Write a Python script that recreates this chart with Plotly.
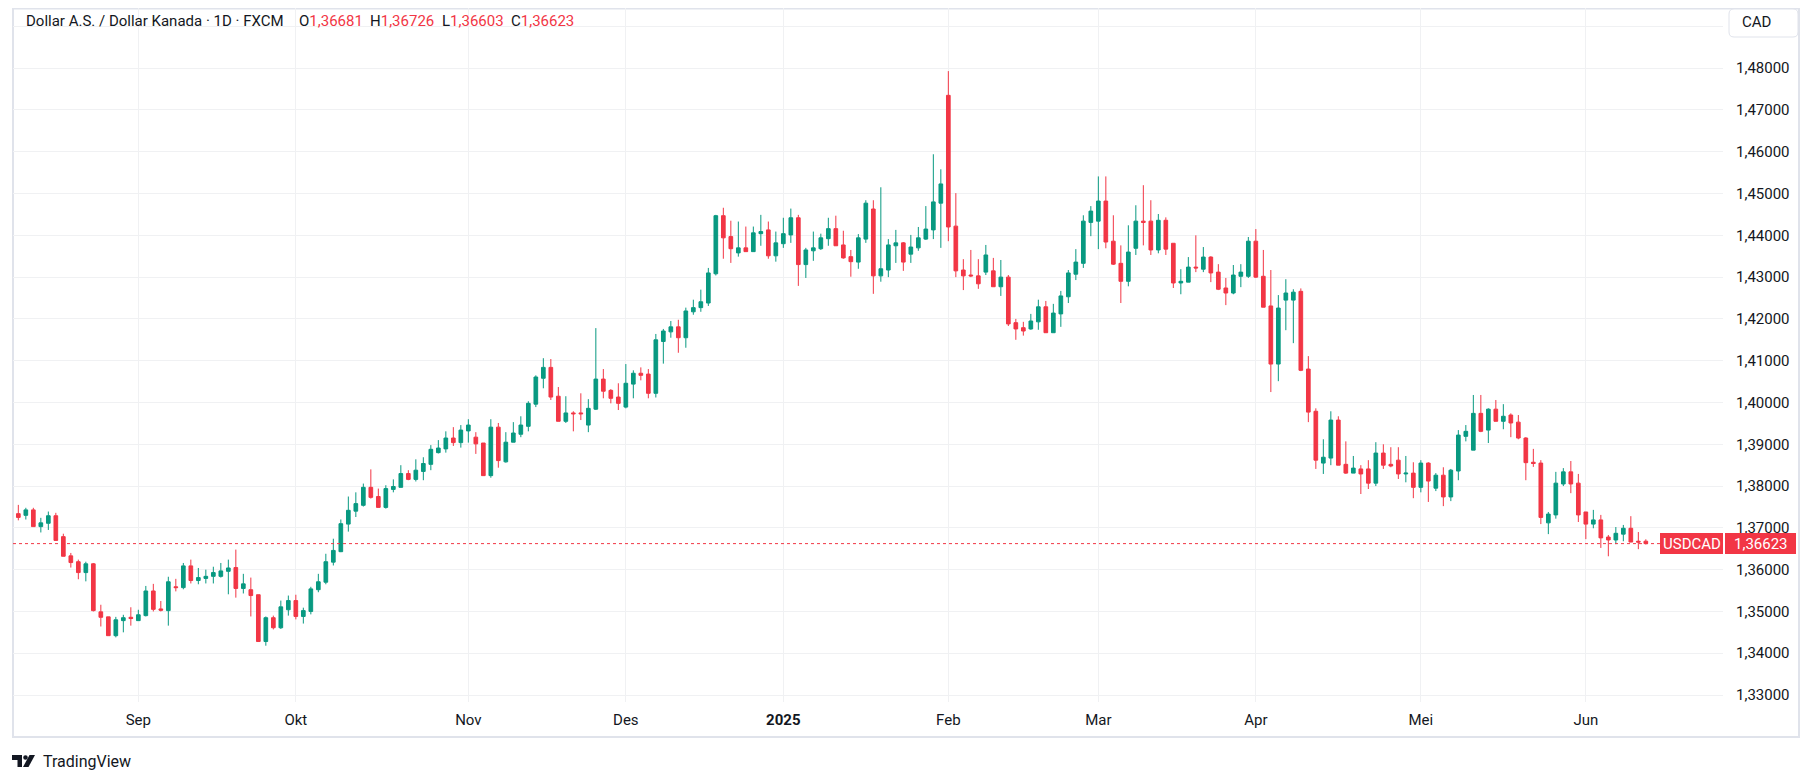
import pandas as pd
import plotly.graph_objects as go

# USD/CAD daily candles, 9 Aug 2024 .. 12 Jun 2025
open_ = [
    1.3734, 1.3730, 1.3743, 1.3703, 1.3711, 1.3729, 1.3679, 1.3633, 1.3619, 1.3593,
    1.3614, 1.3499, 1.3487, 1.3442, 1.3478, 1.3486, 1.3478, 1.3490, 1.3549, 1.3506,
    1.3502, 1.3559, 1.3557, 1.3609, 1.3574, 1.3579, 1.3584, 1.3584, 1.3596, 1.3605,
    1.3555, 1.3552, 1.3540, 1.3428, 1.3485, 1.3461, 1.3504, 1.3526, 1.3488, 1.3500,
    1.3552, 1.3570, 1.3618, 1.3643, 1.3709, 1.3740, 1.3754, 1.3797, 1.3775, 1.3749,
    1.3792, 1.3797, 1.3830, 1.3816, 1.3835, 1.3852, 1.3880, 1.3889, 1.3915, 1.3904,
    1.3932, 1.3917, 1.3903, 1.3825, 1.3941, 1.3858, 1.3905, 1.3924, 1.3943, 1.3996,
    1.4058, 1.4084, 1.4015, 1.3955, 1.3975, 1.3975, 1.3946, 1.3984, 1.4056, 1.4029,
    1.4013, 1.3989, 1.4044, 1.4070, 1.4068, 1.4022, 1.4146, 1.4169, 1.4181, 1.4155,
    1.4217, 1.4227, 1.4238, 1.4308, 1.4447, 1.4397, 1.4358, 1.4370, 1.4361, 1.4404,
    1.4413, 1.4351, 1.4380, 1.4401, 1.4442, 1.4330, 1.4363, 1.4368, 1.4392, 1.4416,
    1.4377, 1.4349, 1.4336, 1.4391, 1.4463, 1.4303, 1.4317, 1.4375, 1.4382, 1.4355,
    1.4370, 1.4391, 1.4413, 1.4477, 1.4735, 1.4422, 1.4317, 1.4305, 1.4303, 1.4312,
    1.4315, 1.4277, 1.4300, 1.4191, 1.4179, 1.4176, 1.4193, 1.4229, 1.4167, 1.4212,
    1.4253, 1.4307, 1.4333, 1.4431, 1.4434, 1.4482, 1.4386, 1.4333, 1.4290, 1.4369,
    1.4434, 1.4434, 1.4365, 1.4436, 1.4381, 1.4286, 1.4288, 1.4324, 1.4319, 1.4348,
    1.4312, 1.4274, 1.4262, 1.4302, 1.4302, 1.4386, 1.4302, 1.4231, 1.4092, 1.4245,
    1.4245, 1.4266, 1.4080, 1.3979, 1.3855, 1.3867, 1.3958, 1.3852, 1.3831, 1.3841,
    1.3841, 1.3807, 1.3879, 1.3852, 1.3862, 1.3829, 1.3831, 1.3797, 1.3855, 1.3795,
    1.3826, 1.3774, 1.3836, 1.3919, 1.3886, 1.3974, 1.3934, 1.3984, 1.3955, 1.3970,
    1.3953, 1.3915, 1.3857, 1.3855, 1.3712, 1.3731, 1.3805, 1.3834, 1.3807, 1.3738,
    1.3709, 1.3719, 1.3678, 1.3671, 1.3685, 1.3699, 1.3668, 1.36681,
]
high = [
    1.3755, 1.3748, 1.3748, 1.3724, 1.3739, 1.3736, 1.3686, 1.3640, 1.3624, 1.3619,
    1.3616, 1.3516, 1.3487, 1.3487, 1.3492, 1.3510, 1.3504, 1.3561, 1.3566, 1.3525,
    1.3583, 1.3578, 1.3616, 1.3624, 1.3604, 1.3600, 1.3607, 1.3616, 1.3624, 1.3648,
    1.3590, 1.3581, 1.3540, 1.3488, 1.3490, 1.3526, 1.3538, 1.3540, 1.3509, 1.3559,
    1.3590, 1.3638, 1.3674, 1.3720, 1.3775, 1.3785, 1.3806, 1.3840, 1.3794, 1.3802,
    1.3816, 1.3850, 1.3838, 1.3864, 1.3869, 1.3898, 1.3910, 1.3931, 1.3941, 1.3946,
    1.3960, 1.3929, 1.3903, 1.3960, 1.3951, 1.3929, 1.3953, 1.3967, 1.4003, 1.4065,
    1.4106, 1.4104, 1.4037, 1.4015, 1.3979, 1.4022, 1.4008, 1.4178, 1.4080, 1.4032,
    1.4046, 1.4092, 1.4077, 1.4084, 1.4080, 1.4164, 1.4176, 1.4195, 1.4198, 1.4227,
    1.4246, 1.4270, 1.4322, 1.4449, 1.4466, 1.4435, 1.4433, 1.4421, 1.4421, 1.4449,
    1.4433, 1.4409, 1.4442, 1.4464, 1.4449, 1.4370, 1.4409, 1.4404, 1.4442, 1.4447,
    1.4411, 1.4365, 1.4403, 1.4484, 1.4484, 1.4515, 1.4391, 1.4413, 1.4384, 1.4401,
    1.4420, 1.4470, 1.4594, 1.4558, 1.4793, 1.4501, 1.4343, 1.4365, 1.4343, 1.4377,
    1.4346, 1.4341, 1.4305, 1.4200, 1.4193, 1.4212, 1.4246, 1.4243, 1.4236, 1.4267,
    1.4317, 1.4367, 1.4448, 1.4470, 1.4541, 1.4541, 1.4448, 1.4376, 1.4424, 1.4472,
    1.4520, 1.4484, 1.4451, 1.4443, 1.4381, 1.4319, 1.4348, 1.4400, 1.4372, 1.4350,
    1.4331, 1.4298, 1.4329, 1.4331, 1.4396, 1.4415, 1.4365, 1.4317, 1.4257, 1.4295,
    1.4271, 1.4273, 1.4111, 1.3986, 1.3912, 1.3979, 1.3967, 1.3907, 1.3872, 1.3850,
    1.3862, 1.3905, 1.3900, 1.3893, 1.3893, 1.3872, 1.3857, 1.3862, 1.3857, 1.3831,
    1.3845, 1.3841, 1.3934, 1.3946, 1.4018, 1.4018, 1.3986, 1.4006, 1.3996, 1.3974,
    1.3970, 1.3917, 1.3889, 1.3862, 1.3738, 1.3834, 1.3843, 1.3860, 1.3829, 1.3738,
    1.3743, 1.3731, 1.3683, 1.3702, 1.3707, 1.3728, 1.3690, 1.36726,
]
low = [
    1.3718, 1.3720, 1.3703, 1.3689, 1.3695, 1.3670, 1.3632, 1.3605, 1.3577, 1.3572,
    1.3500, 1.3464, 1.3442, 1.3438, 1.3450, 1.3466, 1.3478, 1.3488, 1.3500, 1.3500,
    1.3466, 1.3548, 1.3553, 1.3567, 1.3565, 1.3567, 1.3567, 1.3581, 1.3541, 1.3533,
    1.3543, 1.3488, 1.3428, 1.3418, 1.3457, 1.3458, 1.3490, 1.3481, 1.3471, 1.3493,
    1.3546, 1.3565, 1.3610, 1.3642, 1.3691, 1.3726, 1.3751, 1.3770, 1.3749, 1.3746,
    1.3785, 1.3797, 1.3814, 1.3811, 1.3814, 1.3838, 1.3878, 1.3880, 1.3896, 1.3892,
    1.3904, 1.3877, 1.3825, 1.3820, 1.3844, 1.3856, 1.3905, 1.3917, 1.3931, 1.3989,
    1.4034, 1.4006, 1.3955, 1.3951, 1.3931, 1.3958, 1.3929, 1.3982, 1.4010, 1.3998,
    1.3982, 1.3986, 1.4010, 1.4053, 1.4010, 1.4012, 1.4093, 1.4155, 1.4119, 1.4131,
    1.4210, 1.4217, 1.4231, 1.4304, 1.4344, 1.4334, 1.4349, 1.4361, 1.4361, 1.4375,
    1.4344, 1.4337, 1.4370, 1.4382, 1.4279, 1.4298, 1.4339, 1.4365, 1.4375, 1.4375,
    1.4344, 1.4301, 1.4320, 1.4382, 1.4260, 1.4289, 1.4300, 1.4334, 1.4315, 1.4334,
    1.4363, 1.4389, 1.4391, 1.4370, 1.4386, 1.4300, 1.4269, 1.4300, 1.4272, 1.4305,
    1.4277, 1.4255, 1.4183, 1.4150, 1.4160, 1.4174, 1.4174, 1.4167, 1.4167, 1.4181,
    1.4238, 1.4293, 1.4322, 1.4398, 1.4367, 1.4369, 1.4329, 1.4238, 1.4278, 1.4353,
    1.4376, 1.4353, 1.4357, 1.4353, 1.4274, 1.4259, 1.4288, 1.4312, 1.4312, 1.4288,
    1.4269, 1.4233, 1.4259, 1.4276, 1.4298, 1.4298, 1.4228, 1.4025, 1.4051, 1.4173,
    1.4142, 1.4075, 1.3953, 1.3841, 1.3829, 1.3850, 1.3850, 1.3829, 1.3831, 1.3781,
    1.3793, 1.3800, 1.3841, 1.3845, 1.3817, 1.3809, 1.3771, 1.3785, 1.3762, 1.3788,
    1.3752, 1.3764, 1.3814, 1.3907, 1.3886, 1.3929, 1.3903, 1.3955, 1.3936, 1.3917,
    1.3912, 1.3814, 1.3846, 1.3709, 1.3685, 1.3722, 1.3800, 1.3783, 1.3714, 1.3673,
    1.3699, 1.3652, 1.3632, 1.3661, 1.3668, 1.3666, 1.3649, 1.36603,
]
close = [
    1.3725, 1.3743, 1.3703, 1.3712, 1.3729, 1.3670, 1.3632, 1.3617, 1.3593, 1.3614,
    1.3502, 1.3486, 1.3442, 1.3480, 1.3485, 1.3483, 1.3492, 1.3549, 1.3505, 1.3503,
    1.3571, 1.3557, 1.3609, 1.3574, 1.3581, 1.3584, 1.3593, 1.3597, 1.3604, 1.3555,
    1.3566, 1.3538, 1.3428, 1.3485, 1.3461, 1.3511, 1.3526, 1.3488, 1.3502, 1.3554,
    1.3571, 1.3619, 1.3646, 1.3710, 1.3742, 1.3758, 1.3797, 1.3773, 1.3749, 1.3794,
    1.3799, 1.3830, 1.3816, 1.3838, 1.3854, 1.3888, 1.3891, 1.3915, 1.3904, 1.3934,
    1.3946, 1.3901, 1.3825, 1.3941, 1.3861, 1.3905, 1.3927, 1.3946, 1.3998, 1.4061,
    1.4084, 1.4013, 1.3955, 1.3975, 1.3973, 1.3973, 1.3986, 1.4056, 1.4027, 1.4010,
    1.3998, 1.4046, 1.4070, 1.4065, 1.4022, 1.4150, 1.4171, 1.4181, 1.4155, 1.4219,
    1.4227, 1.4241, 1.4310, 1.4447, 1.4394, 1.4368, 1.4370, 1.4361, 1.4406, 1.4409,
    1.4351, 1.4382, 1.4404, 1.4442, 1.4330, 1.4365, 1.4370, 1.4394, 1.4416, 1.4375,
    1.4346, 1.4337, 1.4394, 1.4477, 1.4303, 1.4320, 1.4377, 1.4382, 1.4336, 1.4372,
    1.4394, 1.4415, 1.4480, 1.4523, 1.4420, 1.4315, 1.4303, 1.4303, 1.4284, 1.4353,
    1.4277, 1.4300, 1.4188, 1.4176, 1.4171, 1.4195, 1.4229, 1.4167, 1.4214, 1.4255,
    1.4310, 1.4336, 1.4434, 1.4458, 1.4482, 1.4384, 1.4331, 1.4290, 1.4360, 1.4434,
    1.4431, 1.4365, 1.4436, 1.4367, 1.4286, 1.4290, 1.4324, 1.4322, 1.4348, 1.4310,
    1.4271, 1.4262, 1.4305, 1.4312, 1.4386, 1.4300, 1.4228, 1.4092, 1.4226, 1.4262,
    1.4264, 1.4077, 1.3977, 1.3862, 1.3869, 1.3958, 1.3850, 1.3831, 1.3843, 1.3829,
    1.3807, 1.3879, 1.3850, 1.3848, 1.3829, 1.3831, 1.3797, 1.3855, 1.3812, 1.3826,
    1.3774, 1.3838, 1.3922, 1.3931, 1.3974, 1.3931, 1.3984, 1.3955, 1.3967, 1.3951,
    1.3915, 1.3856, 1.3854, 1.3725, 1.3733, 1.3807, 1.3834, 1.3805, 1.3731, 1.3709,
    1.3719, 1.3676, 1.3671, 1.3687, 1.3699, 1.3666, 1.3666, 1.36623,
]

# trading days (weekdays, no candle on 25 Dec and 1 Jan)
holidays = ["2024-12-25", "2025-01-01"]
dates = []
for d in pd.bdate_range("2024-08-09", "2025-06-12"):
    s = d.strftime("%Y-%m-%d")
    if s not in holidays:
        dates.append(s)

month_labels = ["Sep", "Okt", "Nov", "Des", "<b>2025</b>", "Feb", "Mar", "Apr", "Mei", "Jun"]
price_ticks = [1.33, 1.34, 1.35, 1.36, 1.37, 1.38, 1.39, 1.40,
               1.41, 1.42, 1.43, 1.44, 1.45, 1.46, 1.47, 1.48, 1.49]

# first trading day of every month after the first one
month_starts = []
prev = dates[0][:7]
for d in dates:
    if d[:7] != prev:
        month_starts.append(d)
        prev = d[:7]

price_text = []
for v in price_ticks:
    if v >= 1.49:
        price_text.append("")
    else:
        price_text.append(f"{v:.5f}".replace(".", ","))


def fmt(v):
    return f"{v:.5f}".replace(".", ",")


GREEN = "#089981"
RED = "#F23645"
TEXT = "#131722"
GRID = "#f0f1f3"
BORDER = "#e0e3eb"
FONT = "Roboto"

W, H = 1796, 765
ML, MR, MT, MB = 5, 81, 0, 71
PW = W - ML - MR
PH = H - MT - MB
Y_MIN, Y_MAX = 1.32833, 1.49440


def px(fx):
    return (fx - ML) / PW


def py(fy):
    return 1 - (fy - MT) / PH


def pv(price):
    return (price - Y_MIN) / (Y_MAX - Y_MIN)


def rounded_rect(x0, y0, x1, y1, r):
    pts = [
        f"M{px(x0 + r)},{py(y0)}",
        f"L{px(x1 - r)},{py(y0)}",
        f"Q{px(x1)},{py(y0)} {px(x1)},{py(y0 + r)}",
        f"L{px(x1)},{py(y1 - r)}",
        f"Q{px(x1)},{py(y1)} {px(x1 - r)},{py(y1)}",
        f"L{px(x0 + r)},{py(y1)}",
        f"Q{px(x0)},{py(y1)} {px(x0)},{py(y1 - r)}",
        f"L{px(x0)},{py(y0 + r)}",
        f"Q{px(x0)},{py(y0)} {px(x0 + r)},{py(y0)}",
        "Z",
    ]
    return " ".join(pts)


fig = go.Figure(data=[
    go.Candlestick(
        x=dates,
        open=open_,
        high=high,
        low=low,
        close=close,
        increasing=dict(line=dict(color=GREEN, width=1), fillcolor=GREEN),
        decreasing=dict(line=dict(color=RED, width=1), fillcolor=RED),
        whiskerwidth=0,
        showlegend=False,
    )
])

last = close[-1]

shapes = [
    # widget border
    dict(type="rect", xref="paper", yref="paper",
         x0=px(5), x1=px(1791), y0=py(0.5), y1=py(729),
         line=dict(color=BORDER, width=2), fillcolor="rgba(0,0,0,0)", layer="below"),
    # last price dotted line
    dict(type="line", xref="paper", yref="paper", x0=0, x1=1,
         y0=pv(last), y1=pv(last), line=dict(color=RED, width=1, dash="dot")),
    # price tag boxes
    dict(type="rect", xref="paper", yref="paper",
         x0=px(1652), x1=px(1715), y0=pv(last) - 10.5 / PH, y1=pv(last) + 10.5 / PH,
         line=dict(width=0), fillcolor=RED),
    dict(type="rect", xref="paper", yref="paper",
         x0=px(1717), x1=px(1788), y0=pv(last) - 10.5 / PH, y1=pv(last) + 10.5 / PH,
         line=dict(width=0), fillcolor=RED),
    # currency box
    dict(type="path", xref="paper", yref="paper",
         path=rounded_rect(1721, 1, 1790, 29, 5),
         line=dict(color=BORDER, width=1), fillcolor="white"),
    # TradingView logo
    dict(type="path", xref="paper", yref="paper",
         path=(f"M{px(4)},{py(747)} L{px(14)},{py(747)} L{px(14)},{py(759)} "
               f"L{px(9.5)},{py(759)} L{px(9.5)},{py(752)} L{px(4)},{py(752)} Z"),
         line=dict(width=0), fillcolor=TEXT),
    dict(type="circle", xref="paper", yref="paper",
         x0=px(15.2), x1=px(19.8), y0=py(747.2), y1=py(751.8),
         line=dict(width=0), fillcolor=TEXT),
    dict(type="path", xref="paper", yref="paper",
         path=(f"M{px(15)},{py(759)} L{px(21.5)},{py(747)} L{px(27)},{py(747)} "
               f"L{px(20.5)},{py(759)} Z"),
         line=dict(width=0), fillcolor=TEXT),
]

red_span = f"<span style='color:{RED}'>"
annotations = [
    dict(text="Dollar A.S. / Dollar Kanada · 1D · FXCM", x=px(15.7), y=py(13),
         xanchor="left", yanchor="middle"),
    dict(text=f"O{red_span}{fmt(open_[-1])}</span>", x=px(288.6), y=py(13),
         xanchor="left", yanchor="middle"),
    dict(text=f"H{red_span}{fmt(high[-1])}</span>", x=px(360), y=py(13),
         xanchor="left", yanchor="middle"),
    dict(text=f"L{red_span}{fmt(low[-1])}</span>", x=px(432), y=py(13),
         xanchor="left", yanchor="middle"),
    dict(text=f"C{red_span}{fmt(close[-1])}</span>", x=px(501), y=py(13),
         xanchor="left", yanchor="middle"),
    dict(text="CAD", x=px(1732), y=py(14.5), xanchor="left", yanchor="middle"),
    dict(text="USDCAD", x=px(1683.5), y=pv(last), xanchor="center", yanchor="middle",
         font=dict(color="white", size=15, family=FONT)),
    dict(text=fmt(last), x=px(1752.5), y=pv(last), xanchor="center", yanchor="middle",
         font=dict(color="white", size=15, family=FONT)),
    dict(text="TradingView", x=px(33), y=py(753), xanchor="left", yanchor="middle",
         font=dict(color=TEXT, size=16, family=FONT)),
]
for a in annotations:
    a.setdefault("font", dict(color=TEXT, size=15, family=FONT))
    a["xref"] = "paper"
    a["yref"] = "paper"
    a["showarrow"] = False

fig.update_layout(
    width=W,
    height=H,
    margin=dict(l=ML, r=MR, t=MT, b=MB, pad=0),
    paper_bgcolor="white",
    plot_bgcolor="white",
    separators=",.",
    font=dict(family=FONT, size=15, color=TEXT),
    showlegend=False,
    xaxis=dict(
        type="category",
        range=[-0.71, 227.29],
        tickvals=month_starts,
        ticktext=month_labels,
        showgrid=True,
        gridcolor=GRID,
        gridwidth=1,
        showline=False,
        zeroline=False,
        ticks="",
        ticklabelstandoff=7,
        tickfont=dict(size=15, color=TEXT, family=FONT),
        rangeslider=dict(visible=False),
        fixedrange=True,
    ),
    yaxis=dict(
        side="right",
        range=[Y_MIN, Y_MAX],
        tickvals=price_ticks,
        ticktext=price_text,
        showgrid=True,
        gridcolor=GRID,
        gridwidth=1,
        showline=False,
        zeroline=False,
        ticks="",
        ticklabelstandoff=12,
        tickfont=dict(size=15, color=TEXT, family=FONT),
        fixedrange=True,
    ),
    shapes=shapes,
    annotations=annotations,
)

fig.write_html("out.html", config={"displayModeBar": False})
